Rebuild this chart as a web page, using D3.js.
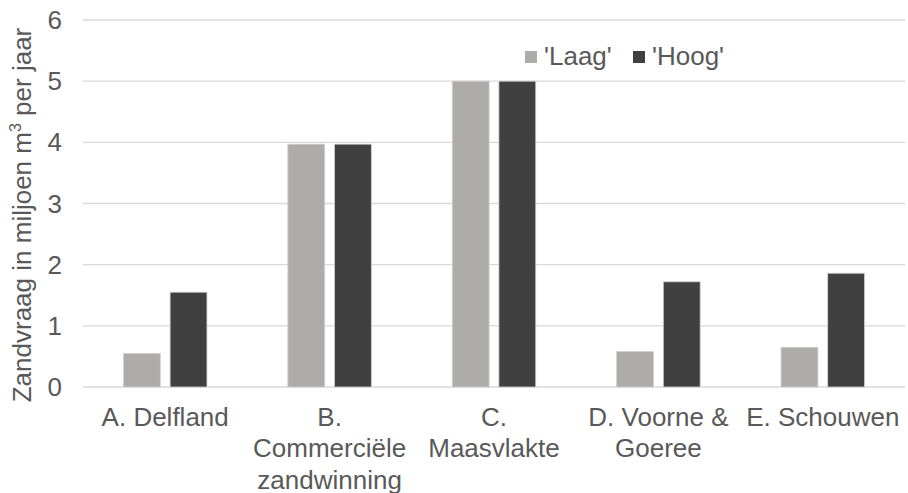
<!DOCTYPE html>
<html>
<head>
<meta charset="utf-8">
<script src="https://cdn.jsdelivr.net/npm/d3@7"></script>
<style>
  html, body { margin: 0; padding: 0; background: #fff; }
  svg { display: block; }
  text { font-family: "Liberation Sans", Arial, sans-serif; fill: #595959; }
</style>
</head>
<body>
<svg id="chart" width="908" height="493"></svg>
<script>
// Sand demand per location, two scenarios (million m³ per year)
const categories = [
  ["A. Delfland"],
  ["B.", "Commerciële", "zandwinning"],
  ["C.", "Maasvlakte"],
  ["D. Voorne &", "Goeree"],
  ["E. Schouwen"]
];
const seriesNames = ["'Laag'", "'Hoog'"];
const laag = [0.55, 3.97, 5.0, 0.58, 0.65];
const hoog = [1.55, 3.97, 5.0, 1.72, 1.86];
const yTicks = [0, 1, 2, 3, 4, 5, 6];
const colors = ["#AEABAB", "#404040"];

const svg = d3.select("#chart");
const plot = { left: 83, right: 905, top: 20, bottom: 387 };
const fontSize = 26;

const catKeys = categories.map((c, i) => i);
const x = d3.scaleBand().domain(catKeys).range([plot.left, plot.right]).paddingInner(0).paddingOuter(0);
const y = d3.scaleLinear().domain([0, 6]).range([plot.bottom, plot.top]);
const groupWidth = x.bandwidth() * 0.508;
const xs = d3.scaleBand().domain([0, 1]).range([0, groupWidth]).paddingInner(0.21).paddingOuter(0);

// gridlines
svg.append("g")
  .selectAll("line")
  .data(yTicks)
  .join("line")
  .attr("x1", plot.left).attr("x2", plot.right)
  .attr("y1", d => y(d)).attr("y2", d => y(d))
  .attr("stroke", "#d9d9d9").attr("stroke-width", 1.3);

// y tick labels
svg.append("g")
  .selectAll("text")
  .data(yTicks)
  .join("text")
  .attr("x", 62).attr("y", d => y(d))
  .attr("dy", "0.35em")
  .attr("text-anchor", "end")
  .attr("font-size", fontSize)
  .text(d => d);

// bars
const series = [laag, hoog];
series.forEach((vals, s) => {
  svg.append("g")
    .selectAll("rect")
    .data(vals)
    .join("rect")
    .attr("x", (d, i) => x(i) + (x.bandwidth() - groupWidth) / 2 + xs(s))
    .attr("width", xs.bandwidth())
    .attr("y", d => y(d))
    .attr("height", d => y(0) - y(d))
    .attr("fill", colors[s])
    .attr("stroke", "#d0d0d0")
    .attr("stroke-width", 0.8);
});

// category labels (wrapped over several lines)
const catG = svg.append("g");
categories.forEach((lines, i) => {
  const cx = x(i) + x.bandwidth() / 2;
  const t = catG.append("text")
    .attr("x", cx)
    .attr("y", 425.5)
    .attr("text-anchor", "middle")
    .attr("font-size", fontSize);
  lines.forEach((ln, j) => {
    t.append("tspan")
      .attr("x", cx)
      .attr("dy", j === 0 ? 0 : 31.5)
      .text(ln);
  });
});

// y axis title
const title = svg.append("text")
  .attr("transform", "translate(31,215) rotate(-90)")
  .attr("text-anchor", "middle")
  .attr("font-size", fontSize);
title.append("tspan").text("Zandvraag in miljoen m");
title.append("tspan").attr("font-size", 16).attr("dy", -10).text("3");
title.append("tspan").attr("dy", 10).text(" per jaar");

// legend
const legend = svg.append("g");
const legendX = [525, 633];
seriesNames.forEach((name, s) => {
  legend.append("rect")
    .attr("x", legendX[s]).attr("y", 51)
    .attr("width", 12).attr("height", 12)
    .attr("fill", colors[s]);
  legend.append("text")
    .attr("x", legendX[s] + 19).attr("y", 65)
    .attr("font-size", fontSize)
    .text(name);
});
</script>
</body>
</html>
